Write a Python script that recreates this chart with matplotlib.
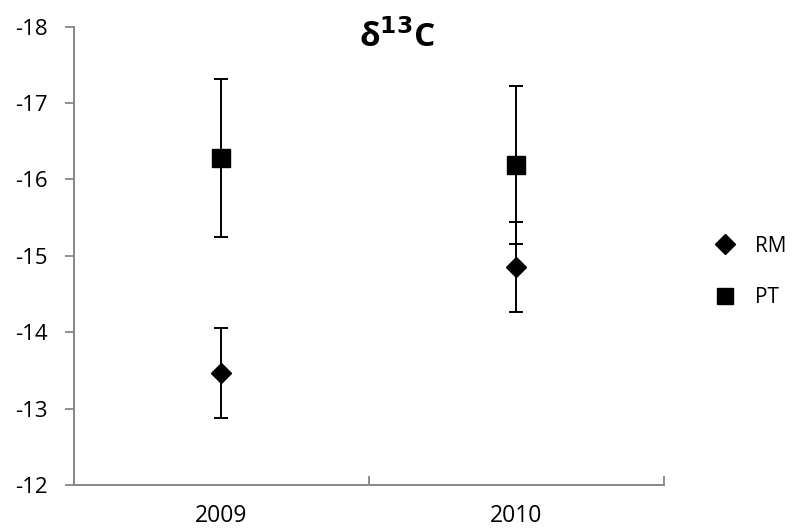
import numpy as np
import matplotlib
matplotlib.use("Agg")
import matplotlib.pyplot as plt

plt.rcParams['font.family'] = ['Open Sans', 'DejaVu Sans']
plt.rcParams['axes.unicode_minus'] = False

years = ["2009", "2010"]
rm_mean = [-13.47, -14.85]
rm_err = [0.59, 0.59]
pt_mean = [-16.28, -16.19]
pt_err = [1.03, 1.03]

fig = plt.figure(figsize=(7.94, 5.29), dpi=100)
ax = fig.add_axes([0.0928, 0.0832, 0.7435, 0.8663])

x = np.arange(len(years)) + 0.5
ax.errorbar(x, rm_mean, yerr=rm_err, fmt='D', color='black', ms=10.3,
            ecolor='black', elinewidth=1.4, capsize=4.7, capthick=1.4, label='RM')
ax.errorbar(x, pt_mean, yerr=pt_err, fmt='s', color='black', ms=12.5,
            ecolor='black', elinewidth=1.4, capsize=4.7, capthick=1.4, label='PT')

ax.set_xlim(0, len(years))
ax.set_ylim(-12, -18)
ax.set_yticks(np.arange(-18, -11, 1))
ax.set_xticks([0, 1, 2], minor=False)
ax.set_xticklabels([])
ax.set_xticks(x, minor=True)
ax.set_xticklabels(years, minor=True)
ax.tick_params(axis='x', which='major', direction='in', length=6.5, color='#868686', width=1.3)
ax.tick_params(axis='x', which='minor', length=0, labelsize=16.5, pad=13.5)
ax.tick_params(axis='y', direction='out', length=6.5, color='#868686', width=1.3,
               labelsize=16, pad=12)

for s in ['top', 'right']:
    ax.spines[s].set_visible(False)
for s in ['left', 'bottom']:
    ax.spines[s].set_color('#868686')
    ax.spines[s].set_linewidth(1.4)

fig.text(0.5, 0.912, 'δ$^{\\mathbf{13}}$C', ha='center', va='baseline',
         fontsize=24, fontweight='bold')

handles, labels = ax.get_legend_handles_labels()
handles = [h[0] for h in handles]
leg = fig.legend(handles, labels, loc='center left', bbox_to_anchor=(0.8765, 0.486),
                 frameon=False, fontsize=15, handletextpad=0.94, labelspacing=1.46,
                 handlelength=1.0, markerscale=0.95)

fig.savefig('out.png', dpi=100)
